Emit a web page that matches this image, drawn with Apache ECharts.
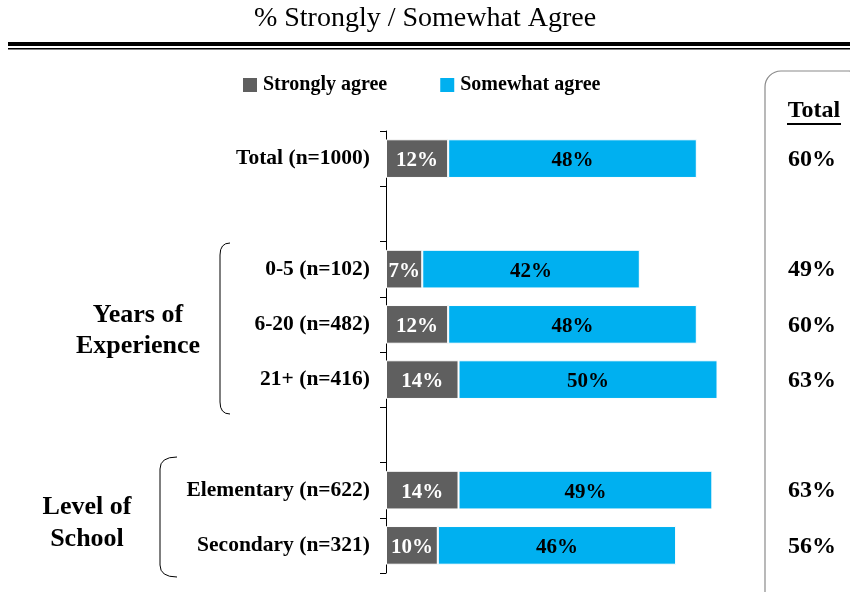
<!DOCTYPE html>
<html><head><meta charset="utf-8">
<script src="https://cdn.jsdelivr.net/npm/echarts@6/dist/echarts.min.js"></script>
<style>html,body{margin:0;padding:0;background:#fff}#c{width:850px;height:592px}</style>
</head><body><div id="c"></div>
<script>
const categories = ['Total (n=1000)', '', '0-5 (n=102)', '6-20 (n=482)', '21+ (n=416)', ' ', 'Elementary (n=622)', 'Secondary (n=321)'];
const stronglyAgree = [12, null, 7, 12, 14, null, 14, 10];
const somewhatAgree = [48, null, 42, 48, 50, null, 49, 46];
const totals = [60, null, 49, 60, 63, null, 63, 56];
const seriesNames = ['Strongly agree', 'Somewhat agree'];

const FONT = '"Liberation Serif","Times New Roman",serif';
const chart = echarts.init(document.getElementById('c'));
const option = {
  animation: false,
  title: {
    text: '% Strongly / Somewhat Agree', left: 'center', top: 0,
    textStyle: {fontFamily: FONT, fontWeight: 'normal', fontSize: 28, color: '#000'}
  },
  legend: {
    left: 236, top: 70, itemWidth: 16, itemHeight: 16, itemGap: 51,
    icon: 'rect', selectedMode: false,
    textStyle: {fontFamily: FONT, fontWeight: 'bold', fontSize: 20, color: '#000'}
  },
  grid: {left: 386, top: 131, width: 414.4, height: 442, containLabel: false},
  xAxis: {type: 'value', min: 0, max: 80, show: false},
  yAxis: {
    type: 'category', data: categories, inverse: true,
    axisLine: {lineStyle: {color: '#000', width: 1}},
    axisTick: {show: true, length: 6, lineStyle: {color: '#000'}},
    axisLabel: {margin: 16, padding: [4, 0, 0, 0], fontFamily: FONT, fontWeight: 'bold', fontSize: 21.5, color: '#000'}
  },
  series: [
    {
      name: seriesNames[0], type: 'bar', stack: 'a', data: stronglyAgree, barCategoryGap: '30%',
      itemStyle: {color: '#5f5f5f', borderColor: '#fff', borderWidth: 1},
      label: {show: true, position: 'inside', offset: [0, 2], formatter: p => p.value == null ? '' : p.value + '%',
        fontFamily: FONT, fontWeight: 'bold', fontSize: 21, color: '#fff'}
    },
    {
      name: seriesNames[1], type: 'bar', stack: 'a', data: somewhatAgree,
      itemStyle: {color: '#00b0f0', borderColor: '#fff', borderWidth: 1},
      label: {show: true, position: 'inside', offset: [0, 2], formatter: p => p.value == null ? '' : p.value + '%',
        fontFamily: FONT, fontWeight: 'bold', fontSize: 21, color: '#000'}
    }
  ]
};
chart.setOption(option);

function brace(xl, xr, yt, yb) {
  const st = {fill: 'none', stroke: '#000', lineWidth: 1};
  return [
    {type: 'bezierCurve', shape: {x1: xr, y1: yt, cpx1: xl, cpy1: yt, x2: xl, y2: yt + 12}, style: st},
    {type: 'line', shape: {x1: xl, y1: yt + 12, x2: xl, y2: yb - 12}, style: st},
    {type: 'bezierCurve', shape: {x1: xl, y1: yb - 12, cpx1: xl, cpy1: yb, x2: xr, y2: yb}, style: st}
  ];
}

const g = [
  {type: 'rect', shape: {x: 8, y: 42, width: 842, height: 4}, style: {fill: '#000'}},
  {type: 'rect', shape: {x: 8, y: 48, width: 842, height: 1.5}, style: {fill: '#000'}},
  {type: 'rect', shape: {x: 765, y: 71, width: 100, height: 540, r: 16}, style: {fill: 'none', stroke: '#8a8a8a', lineWidth: 1.2}},
  {type: 'text', style: {x: 814, y: 111, text: 'Total', align: 'center', verticalAlign: 'middle', font: 'bold 24px ' + FONT, fill: '#000'}},
  {type: 'rect', shape: {x: 787, y: 123, width: 54, height: 2}, style: {fill: '#000'}},
  {type: 'text', style: {x: 138, y: 331, text: 'Years of\nExperience', align: 'center', verticalAlign: 'middle', font: 'bold 26px ' + FONT, lineHeight: 31, fill: '#000'}},
  {type: 'text', style: {x: 87, y: 523, text: 'Level of\nSchool', align: 'center', verticalAlign: 'middle', font: 'bold 26px ' + FONT, lineHeight: 32, fill: '#000'}}
].concat(brace(220, 230, 243, 414), brace(160, 177, 457, 577));
totals.forEach((t, i) => {
  if (t == null) return;
  const y = chart.convertToPixel({yAxisIndex: 0}, i);
  g.push({type: 'text', style: {x: 812, y: y + 1, text: t + '%', align: 'center', verticalAlign: 'middle', font: 'bold 24px ' + FONT, fill: '#000'}});
});
chart.setOption({graphic: g});
</script>
</body></html>
